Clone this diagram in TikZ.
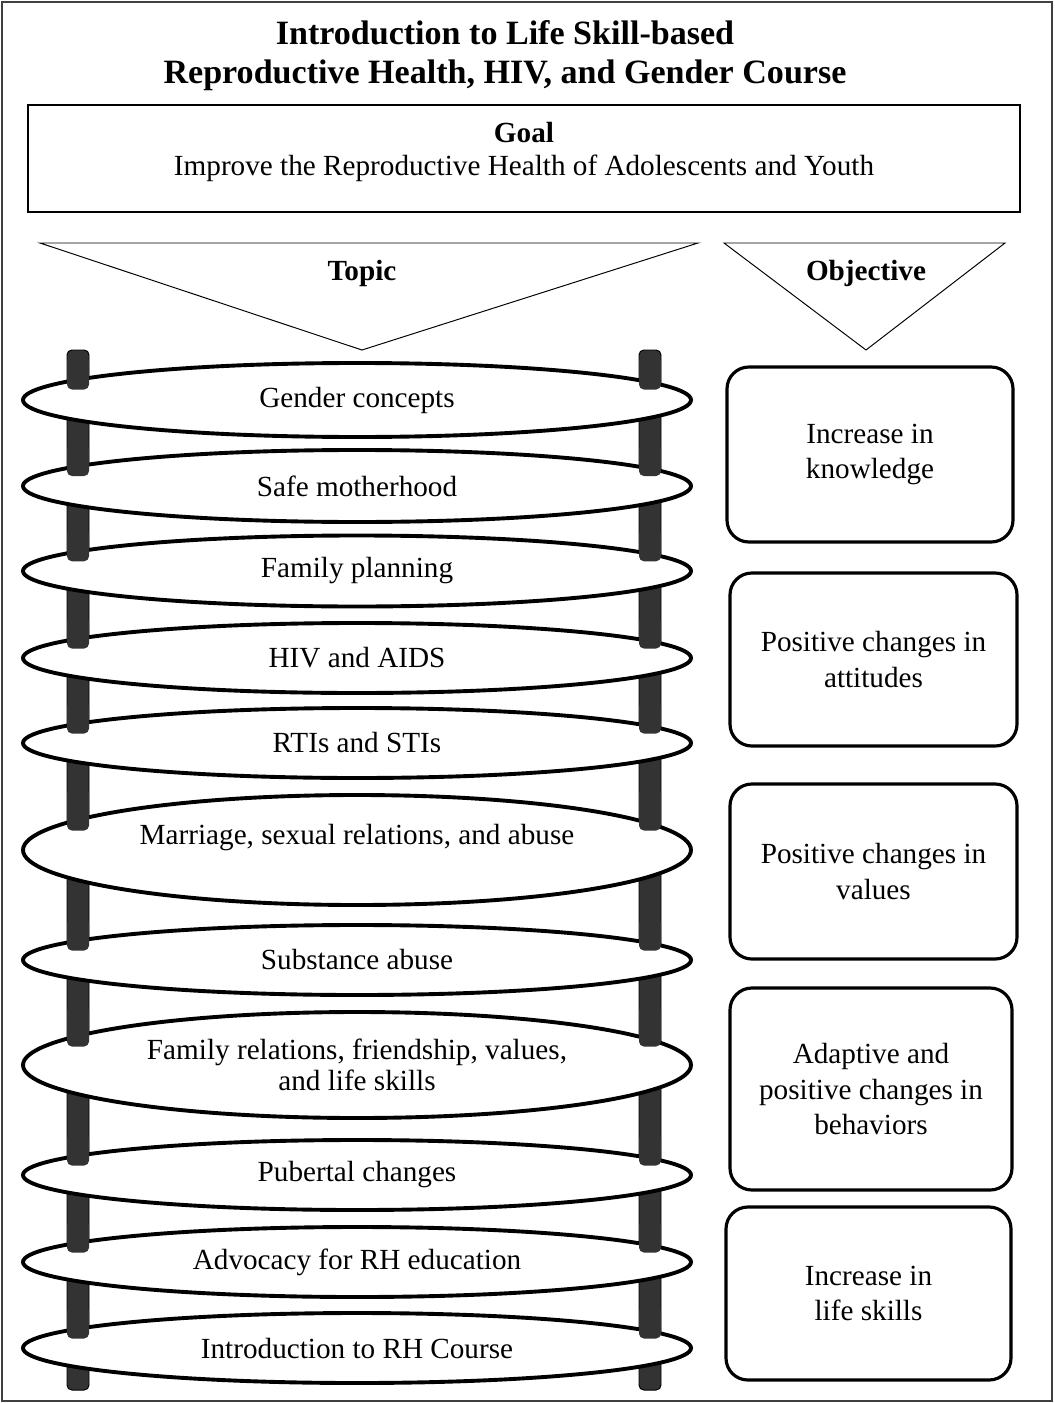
\documentclass[tikz,border=0pt]{standalone}
\usepackage{fontspec}
\setmainfont{Liberation Serif}
\usetikzlibrary{shapes.geometric}
\newcommand{\pxu}{0.411pt}
\tikzstyle{frame}=[draw=black!75, line width=0.6pt]
\tikzstyle{headline}=[font=\fontsize{14}{16}\selectfont\bfseries, align=center]
\tikzstyle{goalbox}=[draw, line width=0.6pt, minimum width=992*\pxu, minimum height=107*\pxu]
\tikzstyle{bodytext}=[font=\fontsize{12}{13.6}\selectfont, align=center]
\tikzstyle{funnel}=[draw, line width=0.4pt]
\tikzstyle{pole}=[fill=black!80, draw=black, line width=0.4pt, rounded corners=2pt]
\tikzstyle{polepiece}=[fill=black!80, rounded corners=2pt]
\tikzstyle{topicring}=[ellipse, draw, line width=1.6pt, fill=white, inner sep=0pt,
  minimum width=668*\pxu, align=center, font=\fontsize{12}{12.7}\selectfont]
\tikzstyle{objbox}=[draw, line width=1.3pt, rounded corners=9pt, align=center,
  font=\fontsize{12}{14.4}\selectfont]
% #1 name, #2 centre y, #3 half height, #4 text
\newcommand{\topic}[4]{%
  \node (t#1) [topicring, minimum height=2*#3*\pxu] at (357,#2) {#4};
  % pole pieces in front of the back of the ring
  \fill[polepiece] (67,#2-#3-6) rectangle (89,#2-0.5*#3+8);
  \fill[polepiece] (639,#2-#3-6) rectangle (661,#2-0.5*#3+8);}

\begin{document}
\begin{tikzpicture}[x=\pxu, y=-\pxu]
\useasboundingbox (0,0) rectangle (1054,1403);
% Frame and heading
\draw[frame] (2,2) rectangle (1052,1401);
\node (title) [headline] at (505,56) {Introduction to Life Skill-based\\Reproductive Health, HIV, and Gender Course};
\node (goal) [goalbox] at (524,158.5) {};
\node (goaltext) [bodytext] at (524,152) {\textbf{Goal}\\Improve the Reproductive Health of Adolescents and Youth};

% Funnels
\draw[funnel] (40,243) -- (698,243) -- (362,350) -- cycle;
\node (topic) [bodytext] at (362,273) {\textbf{Topic}};
\draw[funnel] (724,243) -- (1005,243) -- (866,350) -- cycle;
\node (objective) [bodytext] at (866,273) {\textbf{Objective}};

% Poles
\draw[pole] (67,350) rectangle (89,1390);
\draw[pole] (639,350) rectangle (661,1390);

% Topic rings
\topic{1}{400}{37}{Gender concepts}
\topic{2}{486}{36}{Safe motherhood}
\topic{3}{571}{35.5}{Family planning}
\topic{4}{658}{35}{HIV and AIDS}
\topic{5}{743}{35}{RTIs and STIs}
\topic{6}{850}{55}{Marriage, sexual relations, and abuse\\\mbox{}}
\topic{7}{960}{35}{Substance abuse}
\topic{8}{1065}{53}{Family relations, friendship, values,\\and life skills}
\topic{9}{1175}{35}{Pubertal changes}
\topic{10}{1262}{35}{Advocacy for RH education}
\topic{11}{1348}{35}{Introduction to RH Course}

% Objectives
\node (o1) [objbox, minimum width=286*\pxu, minimum height=175*\pxu] at (870,454.5) {Increase in\\knowledge};
\node (o2) [objbox, minimum width=287*\pxu, minimum height=173*\pxu] at (873.5,659.5) {Positive changes in\\attitudes};
\node (o3) [objbox, minimum width=287*\pxu, minimum height=175*\pxu] at (873.5,871.5) {Positive changes in\\values};
\node (o4) [objbox, minimum width=282*\pxu, minimum height=202*\pxu] at (871,1089) {Adaptive and\\positive changes in\\behaviors};
\node (o5) [objbox, minimum width=285*\pxu, minimum height=173*\pxu] at (868.5,1293.5) {Increase in\\life skills};
\end{tikzpicture}
\end{document}
